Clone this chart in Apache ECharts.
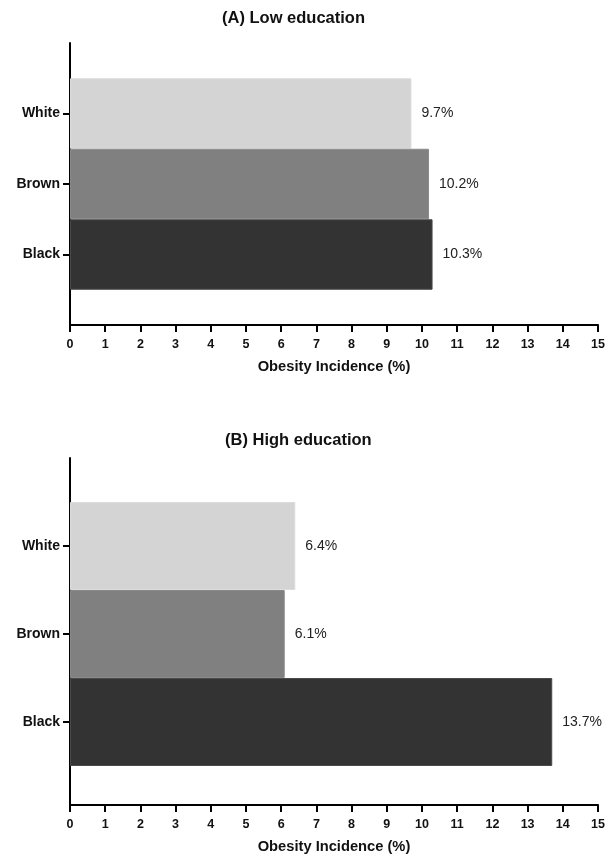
<!DOCTYPE html>
<html>
<head>
<meta charset="utf-8">
<script src="https://cdn.jsdelivr.net/npm/echarts@6/dist/echarts.min.js"></script>
<style>
  html, body { margin: 0; padding: 0; background: #fff; }
  #chart { width: 613px; height: 855px; }
</style>
</head>
<body>
<div id="chart"></div>
<script>
// Obesity incidence by skin colour, split by education level
const groups = ['White', 'Brown', 'Black'];
const lowEducation = [9.7, 10.2, 10.3];
const highEducation = [6.4, 6.1, 13.7];
const groupColors = ['#d4d4d4', '#808080', '#333333'];
const groupBorders = ['#dcdcdc', '#8a8a8a', '#4a4a4a'];
const axisMin = 0;
const axisMax = 15;
const axisStep = 1;
const panelTitles = ['(A) Low education', '(B) High education'];
const axisTitle = 'Obesity Incidence (%)';

const FONT = '"Liberation Sans", Arial, Helvetica, sans-serif';

// Each panel: an outer frame grid (axis lines, x ticks) and an inner grid that holds the bars
const panels = [
  { frameTop: 43, frameHeight: 282, values: lowEducation, titleLeft: 222, titleTop: 10 },
  { frameTop: 458, frameHeight: 352, values: highEducation, titleLeft: 225, titleTop: 432 }
];
const LEFT = 70, WIDTH = 528;

const grid = [], xAxis = [], yAxis = [], series = [], title = [];

panels.forEach((p, i) => {
  const band = p.frameHeight / 4;
  const frameIdx = grid.length;
  grid.push({ left: LEFT, top: p.frameTop, width: WIDTH, height: p.frameHeight });
  const barIdx = grid.length;
  grid.push({ left: LEFT, top: p.frameTop + band / 2, width: WIDTH, height: band * 3 });

  title.push({
    text: panelTitles[i],
    left: p.titleLeft,
    top: p.titleTop,
    padding: 0,
    textStyle: { fontFamily: FONT, fontSize: 16.5, fontWeight: 'bold', color: '#111' }
  });

  // frame axes
  xAxis.push({
    gridIndex: frameIdx, type: 'value', min: axisMin, max: axisMax, interval: axisStep,
    axisLine: { show: true, lineStyle: { color: '#000', width: 2 } },
    axisTick: { show: true, length: 7, lineStyle: { color: '#000', width: 2 } },
    axisLabel: { margin: 13, fontFamily: FONT, fontSize: 12.5, fontWeight: 'bold', color: '#111' },
    splitLine: { show: false },
    name: axisTitle, nameLocation: 'middle', nameGap: 34,
    nameTextStyle: { fontFamily: FONT, fontSize: 14.7, fontWeight: 'bold', color: '#111' }
  });
  yAxis.push({
    gridIndex: frameIdx, type: 'value', min: 0, max: 1,
    axisLine: { show: true, lineStyle: { color: '#000', width: 2 } },
    axisTick: { show: false }, axisLabel: { show: false }, splitLine: { show: false }
  });

  // bar axes
  xAxis.push({
    gridIndex: barIdx, type: 'value', min: axisMin, max: axisMax, interval: axisStep, show: false
  });
  yAxis.push({
    gridIndex: barIdx, type: 'category', data: groups, inverse: true,
    axisLine: { show: false },
    axisTick: { show: true, alignWithLabel: true, length: 7, lineStyle: { color: '#000', width: 2 } },
    axisLabel: { margin: 10, fontFamily: FONT, fontSize: 14, fontWeight: 'bold', color: '#111' },
    splitLine: { show: false }
  });

  series.push({
    type: 'bar',
    xAxisIndex: barIdx, yAxisIndex: barIdx,
    barCategoryGap: '0%',
    data: p.values.map((v, k) => ({
      value: v,
      itemStyle: { color: groupColors[k], borderColor: groupBorders[k], borderWidth: 1 }
    })),
    label: {
      show: true, position: 'right', distance: 10,
      formatter: (d) => d.value + '%',
      fontFamily: FONT, fontSize: 14, color: '#222'
    },
    silent: true
  });
});

const chart = echarts.init(document.getElementById('chart'), null, { renderer: 'canvas' });
chart.setOption({
  animation: false,
  backgroundColor: '#fff',
  title, grid, xAxis, yAxis, series
});
</script>
</body>
</html>
